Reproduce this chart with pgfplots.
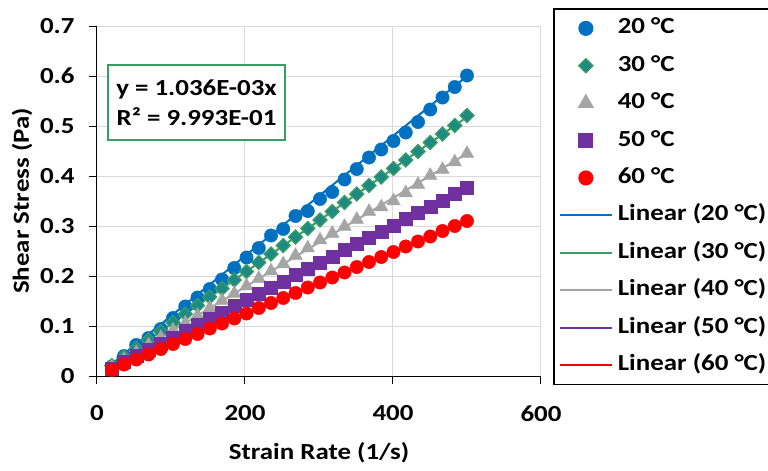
\documentclass[border=0pt]{standalone}
\usepackage{fontspec}
\setmainfont{Carlito}[FakeStretch=1.17]
\usepackage{pgfplots}
\pgfplotsset{compat=1.18}
\usepackage{pgfplotstable}
\usetikzlibrary{calc}

\definecolor{cblue}{HTML}{0070C0}
\definecolor{cgreen}{HTML}{3A9E62}
\definecolor{cteal}{HTML}{1F8A84}
\definecolor{cgray}{HTML}{A5A5A5}
\definecolor{cpurple}{HTML}{7030A0}
\definecolor{cred}{HTML}{FF0000}
\definecolor{cgrid}{HTML}{D9D9D9}

\newcommand{\chartfont}{\bfseries\fontsize{23bp}{27bp}\selectfont}

% strain rate, shear stress at 20/30/40/50/60 C
\pgfplotstableread{
x      b      g      gr     p      r
20.00  0.019  0.021  0.018  0.015  0.012
36.55  0.040  0.038  0.033  0.028  0.023
53.10  0.062  0.055  0.047  0.040  0.033
69.66  0.076  0.072  0.062  0.052  0.043
86.21  0.094  0.089  0.077  0.065  0.054
102.76 0.116  0.107  0.092  0.077  0.064
119.31 0.139  0.124  0.106  0.090  0.074
135.86 0.157  0.141  0.121  0.102  0.084
152.41 0.174  0.158  0.136  0.115  0.095
168.97 0.193  0.175  0.151  0.127  0.105
185.52 0.216  0.192  0.165  0.140  0.115
202.07 0.237  0.209  0.180  0.152  0.125
218.62 0.256  0.227  0.195  0.164  0.136
235.17 0.281  0.244  0.210  0.177  0.146
251.72 0.294  0.261  0.224  0.189  0.156
268.28 0.320  0.278  0.241  0.202  0.166
284.83 0.330  0.295  0.256  0.214  0.177
301.38 0.354  0.312  0.272  0.227  0.187
317.93 0.368  0.329  0.285  0.239  0.197
334.48 0.393  0.347  0.299  0.252  0.207
351.03 0.414  0.364  0.313  0.264  0.218
367.59 0.437  0.381  0.329  0.276  0.228
384.14 0.453  0.398  0.338  0.289  0.238
400.69 0.470  0.415  0.350  0.301  0.248
417.24 0.487  0.432  0.366  0.314  0.259
433.79 0.508  0.449  0.383  0.326  0.269
450.34 0.533  0.467  0.401  0.339  0.279
466.90 0.557  0.484  0.413  0.351  0.290
483.45 0.578  0.501  0.428  0.364  0.300
500.00 0.601  0.521  0.445  0.376  0.310
}\datatable

\begin{document}
\begin{tikzpicture}
\begin{axis}[
    name=ax,
    scale only axis,
    width=444bp, height=350bp,
    xmin=0, xmax=600, ymin=0, ymax=0.7,
    xtick={0,200,400,600},
    ytick={0,0.1,0.2,0.3,0.4,0.5,0.6,0.7},
    yticklabel style={/pgf/number format/fixed, /pgf/number format/precision=1, xshift=-11bp},
    xticklabel style={yshift=-18bp},
    /pgf/number format/assume math mode=true,
    ticklabel style={font=\chartfont},
    axis x line*=bottom, axis y line*=left,
    axis line style={-, black, line width=1bp},
    tick align=outside,
    major tick length=8bp,
    tick style={black, line width=1bp},
    grid=major,
    grid style={cgrid, line width=1bp},
    xlabel={Strain Rate (1/s)},
    ylabel={Shear Stress (Pa)},
    every axis x label/.style={at={(axis description cs:0.5,-0.22)}, anchor=center, font=\chartfont},
    every axis y label/.style={at={(axis description cs:-0.169,0.5)}, anchor=center, rotate=90, font=\chartfont},
    legend style={
        at={(rel axis cs:1,1)}, anchor=north west,
        xshift=12bp, yshift=18bp,
        draw=black, line width=1.7bp,
        inner xsep=5bp, inner ysep=9bp,
        font=\chartfont,
        row sep=16.4bp, column sep=0pt,
        nodes={inner sep=0pt, text height=16bp, text depth=5bp, anchor=west},
    },
    legend cell align=left,
    markleg/.style={legend image code/.code={%
        \path[draw=none, fill=none] (0bp,0bp) -- (58bp,0bp);
        \draw[##1, only marks] plot coordinates {(26bp,0bp)};}},
    lineleg/.style={legend image code/.code={%
        \path[draw=none, fill=none] (0bp,0bp) -- (58bp,0bp);
        \draw[##1] (0bp,0bp) -- (52bp,0bp);}},
]

\addplot[markleg, only marks, mark=*, mark size=6.7bp, color=cblue, fill=cblue] table[x=x, y=b] {\datatable};
\addlegendentry{20 °C}
\addplot[markleg, only marks, mark=square*, mark size=5bp, mark options={rotate=45, fill=cteal, draw=cgreen, line width=1.2bp}] table[x=x, y=g] {\datatable};
\addlegendentry{30 °C}
\addplot[markleg, only marks, mark=triangle*, mark size=7.8bp, color=cgray, fill=cgray] table[x=x, y=gr] {\datatable};
\addlegendentry{40 °C}
\addplot[markleg, only marks, mark=square*, mark size=6.5bp, color=cpurple, fill=cpurple] table[x=x, y=p] {\datatable};
\addlegendentry{50 °C}
\addplot[markleg, only marks, mark=*, mark size=6.7bp, color=cred, fill=cred] table[x=x, y=r] {\datatable};
\addlegendentry{60 °C}

% linear trendlines through the origin
\addplot[lineleg, no marks, cblue, line width=2bp] coordinates {(20,0.0240) (500,0.600)};
\addlegendentry{Linear (20 °C)}
\addplot[lineleg, no marks, cgreen, line width=2bp] coordinates {(20,0.0207) (500,0.518)};
\addlegendentry{Linear (30 °C)}
\addplot[lineleg, no marks, cgray, line width=2bp] coordinates {(20,0.0178) (500,0.445)};
\addlegendentry{Linear (40 °C)}
\addplot[lineleg, no marks, cpurple, line width=2bp] coordinates {(20,0.0150) (500,0.376)};
\addlegendentry{Linear (50 °C)}
\addplot[lineleg, no marks, cred, line width=2bp] coordinates {(20,0.0124) (500,0.310)};
\addlegendentry{Linear (60 °C)}

\node[draw=cgreen, line width=2bp, fill=white, minimum width=177bp, minimum height=75bp,
      align=center, font=\bfseries\fontsize{23bp}{30bp}\selectfont]
  at (axis cs:134.5,0.547) {y = 1.036E-03x\\R² = 9.993E-01};
\end{axis}
\pgfresetboundingbox
\path ($(ax.south west)+(-97bp,-95bp)$) rectangle ++(768bp,471bp);
\end{tikzpicture}
\end{document}
